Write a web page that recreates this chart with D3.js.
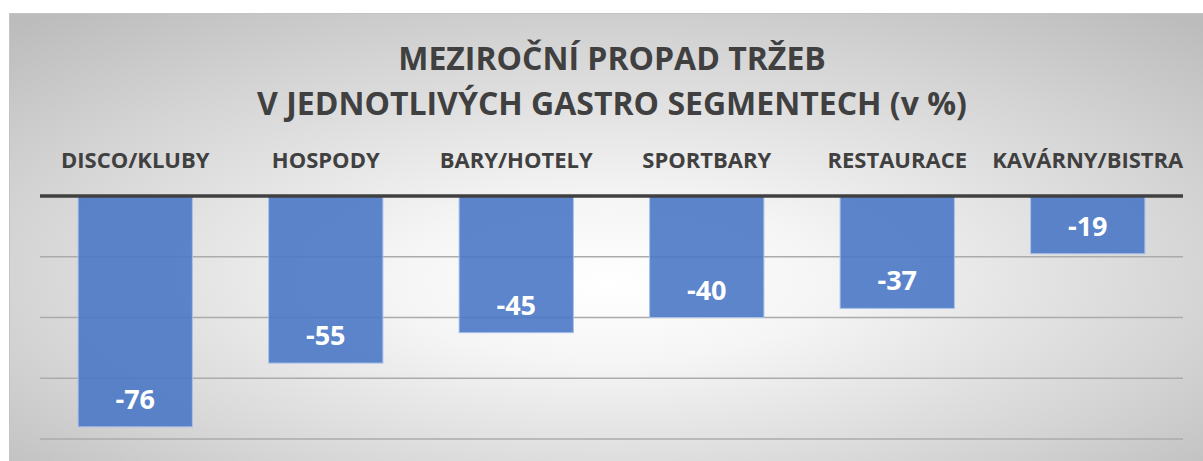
<!DOCTYPE html>
<html><head><meta charset="utf-8">
<script src="https://cdn.jsdelivr.net/npm/d3@7"></script>
<style>html,body{margin:0;padding:0;background:#fff;}svg{display:block;}</style>
</head><body>
<svg id="chart" width="1203" height="461"></svg>
<script>
const categories = ["DISCO/KLUBY","HOSPODY","BARY/HOTELY","SPORTBARY","RESTAURACE","KAVÁRNY/BISTRA"];
const values = [-76,-55,-45,-40,-37,-19];
const yTicks = [0,-20,-40,-60,-80];
const titleLines = ["MEZIROČNÍ PROPAD TRŽEB","V JEDNOTLIVÝCH GASTRO SEGMENTECH (v %)"];

const svg = d3.select("#chart");
const defs = svg.append("defs");
const grad = defs.append("radialGradient").attr("id","bg")
  .attr("cx","50%").attr("cy","55%").attr("r","72%").attr("fx","50%").attr("fy","60%");
grad.append("stop").attr("offset","0").attr("stop-color","#ffffff");
grad.append("stop").attr("offset","0.25").attr("stop-color","#f5f5f5");
grad.append("stop").attr("offset","0.7").attr("stop-color","#d4d4d4");
grad.append("stop").attr("offset","1").attr("stop-color","#bcbcbc");

svg.append("rect").attr("x",9.5).attr("y",13.5).attr("width",1200).attr("height",455)
  .attr("fill","url(#bg)").attr("stroke","#c4c4c4").attr("stroke-width",1);

const font = "'Open Sans', sans-serif";
const x = d3.scaleBand().domain(categories).range([40,1183]).paddingInner(0.4).paddingOuter(0.2);
const y = d3.scaleLinear().domain([0,-80]).range([196,439]);

// gridlines
svg.append("g").selectAll("line").data(yTicks.filter(t=>t!==0)).join("line")
  .attr("x1",40).attr("x2",1183).attr("y1",d=>y(d)).attr("y2",d=>y(d))
  .attr("stroke","#ababab").attr("stroke-width",1.5);

// bars
svg.append("g").selectAll("rect").data(values).join("rect")
  .attr("x",(d,i)=>x(categories[i])).attr("width",x.bandwidth())
  .attr("y",y(0)).attr("height",d=>y(d)-y(0))
  .attr("fill","#4a78c6").attr("fill-opacity",0.9)
  .attr("stroke","#a9c0e8").attr("stroke-width",1);

// axis line
svg.append("line").attr("x1",40).attr("x2",1183).attr("y1",y(0)).attr("y2",y(0))
  .attr("stroke","#404040").attr("stroke-width",3.5);

// value labels
svg.append("g").selectAll("text").data(values).join("text")
  .attr("x",(d,i)=>x(categories[i])+x.bandwidth()/2)
  .attr("y",d=>y(d)-18)
  .attr("text-anchor","middle").attr("fill","#ffffff")
  .style("font-family",font).style("font-weight","700").style("font-size","27px")
  .text(d=>d);

// category labels
svg.append("g").selectAll("text").data(categories).join("text")
  .attr("x",d=>x(d)+x.bandwidth()/2).attr("y",168)
  .attr("text-anchor","middle").attr("fill","#404040")
  .style("font-family",font).style("font-weight","700").style("font-size","22px")
  .text(d=>d);

// title
svg.append("g").selectAll("text").data(titleLines).join("text")
  .attr("x",612).attr("y",(d,i)=>70+i*45)
  .attr("text-anchor","middle").attr("fill","#404040")
  .style("font-family",font).style("font-weight","700").style("font-size","32px")
  .text(d=>d);
</script>
</body></html>
